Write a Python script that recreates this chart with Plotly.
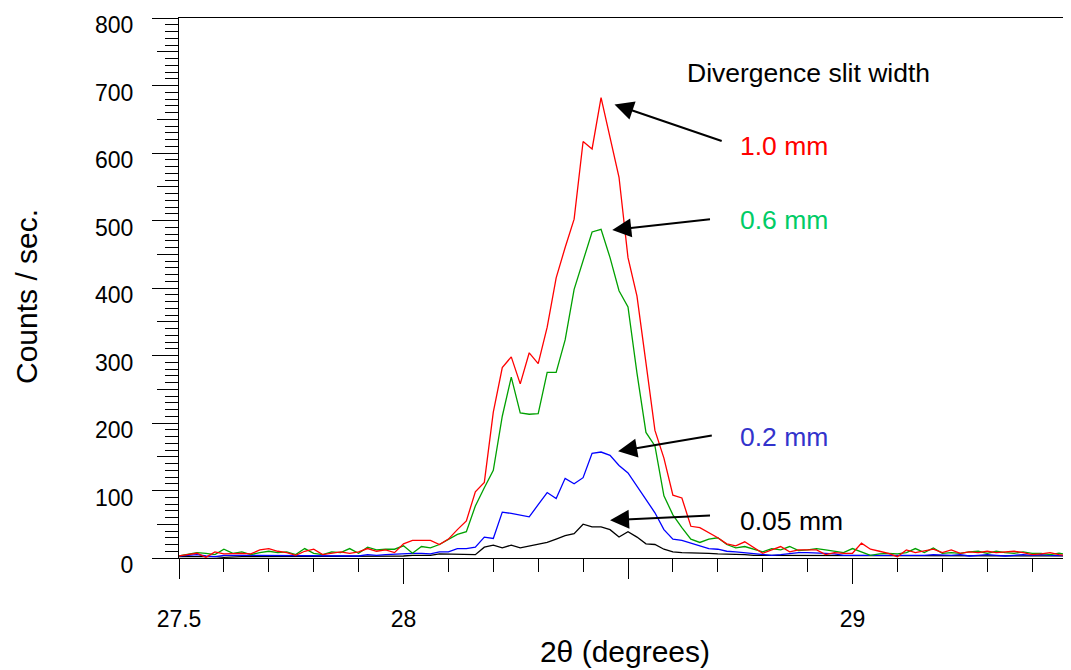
import plotly.graph_objects as go

# 2-theta sampling grid (degrees)
two_theta = [
    27.50, 27.52, 27.54, 27.56, 27.58, 27.60, 27.62, 27.64, 27.66, 27.68,
    27.70, 27.72, 27.74, 27.76, 27.78, 27.80, 27.82, 27.84, 27.86, 27.88,
    27.90, 27.92, 27.94, 27.96, 27.98, 28.00, 28.02, 28.04, 28.06, 28.08,
    28.10, 28.12, 28.14, 28.16, 28.18, 28.20, 28.22, 28.24, 28.26, 28.28,
    28.30, 28.32, 28.34, 28.36, 28.38, 28.40, 28.42, 28.44, 28.46, 28.48,
    28.50, 28.52, 28.54, 28.56, 28.58, 28.60, 28.62, 28.64, 28.66, 28.68,
    28.70, 28.72, 28.74, 28.76, 28.78, 28.80, 28.82, 28.84, 28.86, 28.88,
    28.90, 28.92, 28.94, 28.96, 28.98, 29.00, 29.02, 29.04, 29.06, 29.08,
    29.10, 29.12, 29.14, 29.16, 29.18, 29.20, 29.22, 29.24, 29.26, 29.28,
    29.30, 29.32, 29.34, 29.36, 29.38, 29.40, 29.42, 29.44, 29.46, 29.48,
    29.50,
]

counts_1_0mm = [
    3, 5, 7, 1, 9, 6, 7, 7, 6, 12,
    14, 10, 8, 4, 10, 13, 5, 7, 9, 7,
    9, 14, 10, 12, 8, 21, 26, 26, 26, 20,
    28, 42, 55, 98, 112, 216, 282, 298, 258, 304,
    288, 342, 415, 460, 502, 617, 606, 682, 623, 564,
    445, 388, 289, 189, 148, 93, 89, 47, 45, 38,
    30, 21, 18, 24, 15, 7, 12, 17, 9, 12,
    12, 12, 5, 8, 7, 7, 22, 13, 10, 7,
    2, 12, 8, 10, 13, 8, 12, 7, 9, 8,
    10, 8, 9, 10, 8, 5, 6, 8, 5, 3,
    2,
]

counts_0_6mm = [
    3, 5, 8, 7, 5, 13, 7, 9, 5, 8,
    10, 8, 9, 5, 14, 7, 5, 9, 8, 14,
    7, 16, 12, 13, 13, 18, 7, 17, 15, 20,
    28, 35, 39, 77, 104, 130, 210, 268, 215, 213,
    214, 275, 275, 323, 398, 440, 483, 487, 445, 396,
    372, 274, 186, 166, 92, 64, 45, 28, 23, 28,
    30, 20, 15, 17, 13, 9, 14, 12, 17, 11,
    12, 14, 12, 10, 8, 14, 9, 4, 6, 7,
    6, 8, 14, 8, 15, 7, 8, 7, 9, 10,
    7, 10, 8, 7, 9, 7, 7, 5, 7, 5,
    5,
]

counts_0_2mm = [
    3, 4, 5, 3, 2, 4, 4, 3, 3, 4,
    3, 4, 3, 4, 3, 3, 4, 3, 4, 4,
    3, 5, 4, 5, 6, 7, 7, 7, 6, 9,
    9, 14, 14, 16, 31, 29, 68, 66, 63, 61,
    79, 97, 88, 118, 110, 119, 155, 157, 152, 137,
    126, 106, 87, 67, 42, 28, 26, 22, 18, 14,
    13, 10, 9, 8, 7, 5, 4, 5, 7, 8,
    8, 8, 7, 6, 4, 4, 4, 3, 4, 3,
    3, 4, 3, 4, 5, 4, 4, 5, 3, 4,
    5, 4, 3, 4, 5, 4, 5, 4, 4, 3,
    3,
]

counts_0_05mm = [
    2, 2, 3, 2, 2, 1, 2, 2, 2, 2,
    2, 2, 2, 2, 2, 3, 2, 2, 2, 2,
    2, 2, 3, 2, 3, 3, 4, 4, 4, 6,
    6, 5, 5, 5, 16, 19, 15, 19, 15, 18,
    21, 23, 28, 33, 36, 50, 46, 46, 42, 31,
    39, 31, 21, 20, 13, 9, 8, 8, 8, 7,
    6, 6, 5, 5, 4, 4, 4, 4, 3, 4,
    3, 4, 3, 3, 4, 3, 3, 4, 3, 3,
    4, 3, 3, 4, 3, 3, 4, 3, 3, 4,
    3, 3, 4, 3, 3, 4, 3, 3, 3, 3,
    3,
]

series_names = ["0.05 mm", "0.2 mm", "0.6 mm", "1.0 mm"]
series_values = [counts_0_05mm, counts_0_2mm, counts_0_6mm, counts_1_0mm]
line_colors = ["#000000", "#0000ff", "#00a000", "#ff0000"]
label_colors = ["#000000", "#3333cc", "#00cc66", "#ff0000"]

# annotation placement (data coordinates): label (x, y), arrow tail (x, y), arrow tip (x, y)
label_pos = [(28.745, 55), (28.745, 180), (28.745, 501), (28.745, 610)]
arrow_tail = [(28.686, 63), (28.690, 182), (28.686, 502), (28.712, 617)]
arrow_tip = [(28.460, 56), (28.478, 158), (28.465, 486), (28.470, 672)]

x_range = [27.5, 27.5 + 892 / 449]
y_range = [0, 800]
FONT = "Liberation Sans, Arial, Helvetica, sans-serif"

fig = go.Figure()
for name, vals, col in zip(series_names, series_values, line_colors):
    fig.add_trace(go.Scatter(
        x=two_theta, y=vals, mode="lines", name=name,
        line=dict(color=col, width=1.3), showlegend=False, hoverinfo="skip",
    ))

# empty trace hosting the overlay axes used for extra tick lengths
fig.add_trace(go.Scatter(x=[], y=[], xaxis="x2", yaxis="y2", showlegend=False, hoverinfo="skip"))

annotations = []
for name, lp, tail, tip, lc in zip(series_names, label_pos, arrow_tail, arrow_tip, label_colors):
    annotations.append(dict(
        x=lp[0], y=lp[1], xref="x", yref="y", text=name, showarrow=False,
        xanchor="left", yanchor="middle", font=dict(family=FONT, size=26.5, color=lc),
    ))
    annotations.append(dict(
        x=tip[0], y=tip[1], ax=tail[0], ay=tail[1], xref="x", yref="y",
        axref="x", ayref="y", text="", showarrow=True, arrowhead=2,
        arrowsize=1.9, arrowwidth=2, arrowcolor="#000000",
    ))
annotations.append(dict(
    x=28.627, y=719, xref="x", yref="y", text="Divergence slit width", showarrow=False,
    xanchor="left", yanchor="middle", font=dict(family=FONT, size=26.5, color="#000000"),
))
annotations.append(dict(
    x=(26 - 179) / 892, y=(558.5 - 297.5) / 0.675, xref="paper", yref="y",
    text="Counts / sec.", textangle=-90, showarrow=False,
    xanchor="center", yanchor="middle", font=dict(family=FONT, size=30, color="#000000"),
))

fig.update_layout(
    width=1063, height=662,
    margin=dict(l=171, r=0, t=10, b=112, pad=0),
    paper_bgcolor="white", plot_bgcolor="white",
    font=dict(family=FONT, color="#000000"),
    hovermode=False,
    xaxis=dict(
        range=x_range, showgrid=False, zeroline=False,
        showline=True, mirror=True, linecolor="#000000", linewidth=1.3,
        tickmode="array", tickvals=[27.5, 28, 28.5, 29], ticktext=["27.5", "28", "", "29"],
        ticks="outside", ticklen=20, tickwidth=1.3, tickcolor="#000000",
        tickfont=dict(family=FONT, size=23, color="#000000"),
        ticklabelstandoff=20, ticklabeloverflow="allow",
        minor=dict(tick0=27.5, dtick=0.1, ticks="outside", ticklen=13, tickwidth=1.3,
                   tickcolor="#000000", showgrid=False),
        title=dict(text="2θ (degrees)", font=dict(family=FONT, size=30, color="#000000"), standoff=10),
        automargin=False,
    ),
    xaxis2=dict(
        range=x_range, overlaying="x", anchor="y2", side="bottom",
        showgrid=False, zeroline=False, showline=False,
        tickmode="array", tickvals=[28, 29], showticklabels=False,
        ticks="outside", ticklen=25, tickwidth=1.3, tickcolor="#000000",
    ),
    yaxis=dict(
        range=y_range, showgrid=False, zeroline=False,
        showline=True, linecolor="#000000", linewidth=1.3,
        tickmode="linear", tick0=0, dtick=100,
        ticks="outside", ticklen=26, tickwidth=1.3, tickcolor="#000000",
        tickfont=dict(family=FONT, size=23, color="#000000"),
        ticklabelstandoff=14, ticklabelshift=7, ticklabeloverflow="allow",
        minor=dict(tick0=0, dtick=10, ticks="outside", ticklen=13, tickwidth=1.3,
                   tickcolor="#000000", showgrid=False),
        automargin=False,
    ),
    yaxis2=dict(
        range=y_range, overlaying="y", anchor="x2", side="left",
        showgrid=False, zeroline=False, showline=False,
        tickmode="array", tickvals=[50, 150, 250, 350, 450, 550, 650, 750], showticklabels=False,
        ticks="outside", ticklen=21, tickwidth=1.3, tickcolor="#000000",
    ),
    annotations=annotations,
)

fig.write_html("out.html")
